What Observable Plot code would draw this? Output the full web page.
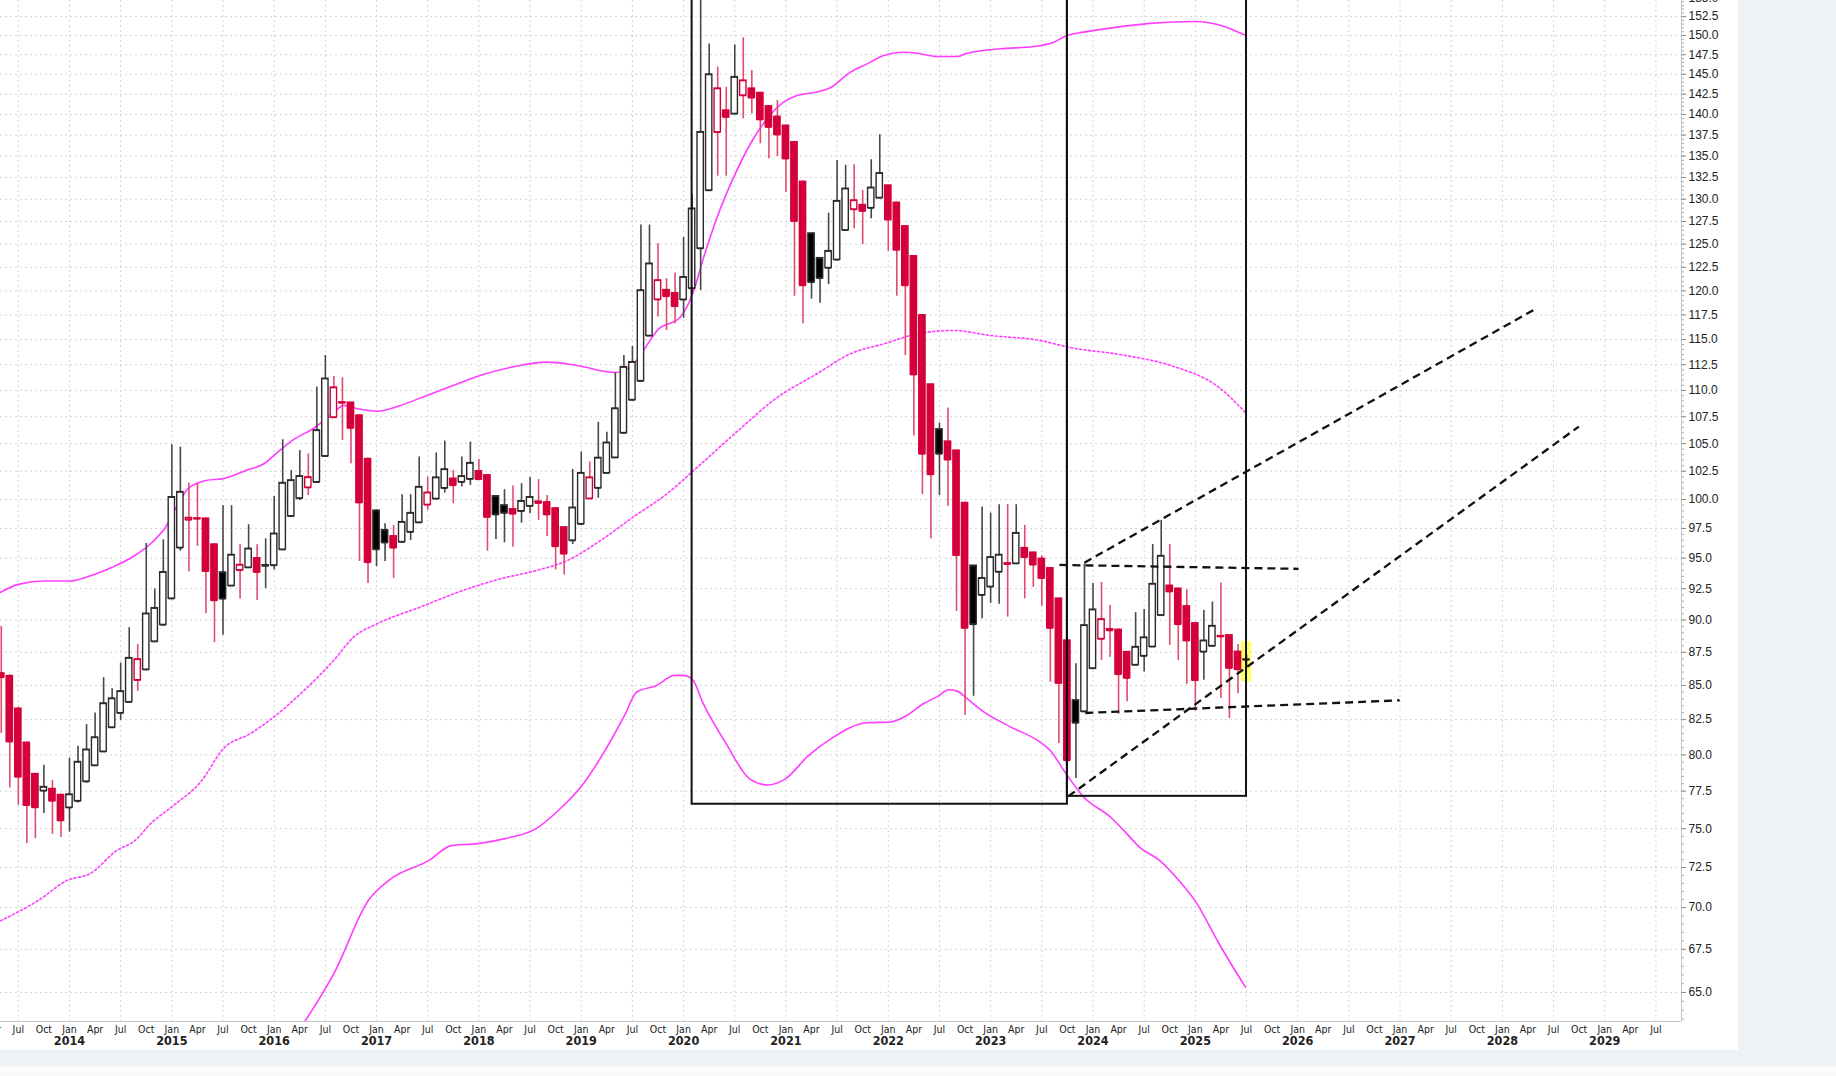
<!DOCTYPE html>
<html>
<head>
<meta charset="utf-8">
<script src="https://cdn.jsdelivr.net/npm/d3@7"></script>
<script src="https://cdn.jsdelivr.net/npm/@observablehq/plot@0.6"></script>
<style>
  html, body { margin: 0; padding: 0; width: 1836px; height: 1076px; overflow: hidden; background: #eef2f7; }
  #chart { position: absolute; left: 0; top: 0; width: 1738px; height: 1050px; background: #ffffff; }
  #foot { position: absolute; left: 0; top: 1066px; width: 1836px; height: 10px; background: #fafafa; }
  svg { display: block; }
</style>
</head>
<body>
<div id="chart"></div>
<div id="foot"></div>
<script>
// ---------- DATA (monthly Heikin-Ashi candles, first candle May 2013) ----------
const firstMonth = "2013-05";
const haOpen = [85.9,85.7,83.29,80.85,78.67,77.52,77.65,77.24,76.39,76.83,78.15,79.25,80.22,81.93,82.97,83.77,85.39,86.18,88.32,89.62,
  91.7,95.86,98.23,98.32,98.34,96.14,93.82,92.73,94.0,94.22,94.99,94.41,94.4,95.71,98.54,100.09,101.04,101.52,103.85,107.43,
  108.86,108.83,107.61,103.6,99.03,97.36,96.83,96.35,97.19,98.0,99.53,100.05,100.99,101.83,101.53,101.79,102.5,102.13,100.28,99.48,
  99.15,98.98,99.42,99.81,99.75,99.22,97.59,96.47,97.87,100.07,101.0,102.33,103.72,105.98,109.08,110.9,115.37,119.08,120.08,119.75,
  119.07,120.25,124.52,131.0,137.83,140.48,140.07,142.33,143.2,142.66,141.0,139.72,138.63,136.65,132.0,126.17,123.48,122.42,123.3,126.52,
  128.84,129.35,129.0,130.15,131.57,129.6,126.96,123.69,117.46,110.57,106.32,105.19,104.36,99.7,94.38,91.98,92.65,93.86,94.57,94.55,
  95.84,95.46,94.95,94.17,91.7,88.4,83.9,83.08,86.27,88.52,89.28,89.24,87.52,86.53,87.21,87.92,90.37,92.74,92.5,91.08,
  89.74,87.53,87.98,88.75,88.81,87.54,86.92];
const haHigh = [89.5,85.8,83.4,80.9,78.7,79.27,78.24,77.3,79.77,80.6,82.14,82.98,85.58,84.76,86.68,89.4,88.09,96.23,92.48,96.54,
  104.9,104.68,101.45,101.4,98.4,96.2,99.46,99.46,96.12,97.82,96.12,96.62,100.26,105.36,102.57,104.37,104.06,110.32,113.41,111.35,
  111.22,108.85,107.7,103.7,99.1,97.91,97.76,100.42,100.42,103.79,101.98,104.15,105.23,102.57,103.79,105.14,103.55,102.2,100.3,100.86,
  101.18,101.39,101.93,101.75,100.35,99.3,97.6,102.66,104.23,103.33,106.98,106.06,111.68,113.41,114.31,127.1,127.1,125.04,121.27,121.88,
  125.72,130.5,157.0,148.9,145.92,143.34,148.77,149.7,145.48,142.7,141.1,141.72,138.7,136.7,132.1,126.2,123.5,128.43,134.49,133.91,
  133.99,131.0,134.57,137.54,131.6,129.7,127.0,123.7,117.5,110.6,106.9,108.33,104.4,99.75,94.4,99.34,98.82,99.55,99.55,99.54,
  97.76,95.5,95.2,94.2,91.75,88.45,86.63,94.52,92.93,93.01,91.16,89.3,87.55,90.58,90.84,96.14,98.19,96.14,92.55,92.42,
  89.8,90.76,91.43,92.96,88.85,88.09,87.3];
const haLow = [81.5,77.71,76.55,74.03,74.35,76.0,74.63,74.42,74.78,76.7,78.04,79.2,80.2,81.9,82.45,83.7,84.56,86.1,88.3,89.5,
  91.6,95.58,93.85,96.0,90.5,88.24,88.81,92.7,91.68,94.2,91.55,92.52,94.03,95.7,98.5,99.91,100.35,101.5,103.8,107.4,
  105.3,103.17,94.73,92.93,94.3,94.73,93.34,96.3,96.48,97.95,99.05,100.0,100.56,99.63,101.09,101.24,101.7,95.58,96.56,96.29,
  95.92,97.95,98.77,98.19,96.81,94.03,93.62,96.14,97.8,100.0,100.11,102.3,103.7,105.9,109.0,110.8,115.3,117.28,115.9,116.6,
  117.15,119.5,120.04,130.9,132.65,132.65,140.0,139.47,140.09,136.46,134.68,134.95,130.8,119.43,116.6,119.14,118.71,120.66,123.2,126.5,
  126.68,124.97,127.8,130.1,124.21,119.43,113.41,105.71,100.43,96.62,100.35,99.4,90.68,82.81,84.2,90.1,91.33,91.26,90.23,94.5,
  91.68,92.62,91.09,85.25,80.79,79.4,78.36,83.0,86.2,86.87,87.13,82.89,83.79,86.5,86.0,87.9,90.3,88.03,86.87,85.08,
  83.13,85.38,87.9,84.03,82.57,84.39,86.5];
const haClose = [85.6,80.92,78.47,76.55,76.4,77.78,76.84,75.53,77.27,79.5,80.36,81.22,83.67,84.03,84.56,87.06,86.96,90.5,90.94,93.84,
  100.2,100.65,98.4,98.36,93.92,91.55,91.68,95.27,94.44,95.78,93.84,94.35,97.05,101.45,101.68,102.05,101.95,106.22,111.13,110.27,
  108.8,106.44,99.72,94.65,95.72,96.29,95.86,98.04,98.82,101.09,100.59,101.93,102.66,101.24,102.04,103.23,101.77,98.47,98.68,98.82,
  98.75,99.85,100.2,99.68,98.68,95.98,95.36,99.28,102.33,101.93,103.7,105.08,108.27,112.26,112.75,120.04,122.88,121.1,119.42,118.38,
  121.44,128.93,137.85,144.97,143.2,139.67,144.64,144.2,142.05,139.36,138.46,137.54,134.68,127.53,120.56,120.9,121.32,124.24,129.79,131.2,
  129.86,128.66,131.31,132.98,127.69,124.36,120.56,111.52,104.06,102.21,104.06,103.53,95.24,89.37,89.66,93.35,95.07,95.27,94.5,97.1,
  95.07,94.45,93.35,89.37,85.17,79.61,82.26,89.58,90.82,90.05,89.18,85.83,85.55,87.9,88.63,92.88,95.18,92.26,89.66,88.39,
  85.38,88.39,89.53,88.7,86.3,86.2,86.95];

// Bollinger bands (decimal year, value)
const upperYear = [2013.326,2013.501,2013.762,2014.002,2014.198,2014.416,2014.635,2014.808,2014.938,2015.071,2015.158,2015.333,2015.504,2015.724,2015.899,2016.052,2016.204,2016.379,2016.55,2016.683,2016.814,2017.006,2017.233,2017.492,2017.754,2018.017,2018.342,2018.667,2018.958,2019.333,2019.513,2019.611,2019.742,2019.969,2020.1,2020.197,2020.328,2020.49,2020.653,2020.816,2020.978,2021.109,2021.304,2021.434,2021.63,2021.793,2021.955,2022.151,2022.282,2022.475,2022.673,2022.77,2023.096,2023.421,2023.617,2023.747,2023.908,2024.233,2024.558,2024.992,2025.283,2025.492];
const upperVal = [92.21,92.85,93.12,93.12,93.53,94.25,95.2,96.33,97.6,99.77,100.95,101.68,101.84,102.57,103.17,104.37,105.46,106.38,107.62,108.57,108.25,108.02,108.57,109.52,110.49,111.46,112.3,112.75,112.42,111.74,112.59,113.96,115.92,117.28,120.04,123.6,127.98,132.53,136.46,139.48,141.51,142.34,142.77,143.3,145.27,146.33,147.4,147.82,147.69,147.27,147.27,147.69,148.27,148.56,149.13,150.0,150.44,151.1,151.6,151.85,151.2,150.0];
const middleYear = [2013.326,2013.698,2013.978,2014.198,2014.466,2014.635,2014.792,2015.019,2015.28,2015.507,2015.767,2015.942,2016.257,2016.582,2016.778,2017.006,2017.425,2017.885,2018.211,2018.559,2018.863,2019.188,2019.513,2019.839,2020.099,2020.555,2020.898,2021.304,2021.63,2021.955,2022.282,2022.639,2022.998,2023.486,2023.758,2024.308,2024.767,2025.225,2025.489];
const middleVal = [69.2,70.45,71.69,72.1,73.6,74.2,75.33,76.55,78.12,80.46,81.5,82.38,84.38,86.89,88.68,89.71,91.02,92.48,93.3,93.98,94.8,96.48,98.51,100.51,102.57,106.39,109.21,111.62,113.58,114.57,115.57,115.92,115.41,114.9,114.24,113.43,112.4,110.33,107.9];
const lowerYear = [2016.208,2016.589,2016.921,2017.12,2017.513,2017.731,2017.992,2018.255,2018.559,2018.778,2018.996,2019.214,2019.432,2019.539,2019.738,2019.911,2019.998,2020.087,2020.19,2020.417,2020.648,2020.819,2020.991,2021.22,2021.448,2021.791,2022.021,2022.183,2022.346,2022.477,2022.59,2022.673,2022.77,2022.933,2023.193,2023.454,2023.583,2023.714,2023.908,2024.17,2024.3,2024.463,2024.65,2024.85,2025.0,2025.225,2025.489];
const lowerVal = [62.6,66.15,70.45,71.69,72.95,73.9,74.03,74.35,75.0,76.22,77.78,80.08,82.93,84.5,85.0,85.75,85.75,85.44,83.7,80.77,78.32,77.92,78.32,79.94,81.18,82.27,82.33,82.81,83.67,84.16,84.68,84.58,84.02,83.06,81.98,81.03,80.31,78.93,77.11,75.77,74.89,73.75,72.95,71.6,70.4,67.9,65.3];

// Annotations drawn on the chart (months as "YYYY-MM", prices)
const boxFrom = ["2020-02", "2023-10"];
const boxTo = ["2023-10", "2025-07"];
const boxLow = [76.62, 77.15];
const trendFrom = [2023.916, 2023.758, 2023.672, 2023.925];
const trendFromVal = [94.63, 77.15, 94.44, 82.98];
const trendTo = [2028.332, 2028.747, 2026.008, 2026.997];
const trendToVal = [118.17, 106.58, 94.12, 83.9];
const highlightMonth = "2025-07";
const highlightRange = [85.25, 88.3];

// Axis ticks
const yTicks = d3.range(65, 155.01, 2.5);
const yMinorTicks = d3.range(63.5, 155.01, 0.5);
const monthNames = ["Jan", "Apr", "Jul", "Oct"];
const firstTickYear = 2013, lastTick = "2029-07";

// ---------- helpers ----------
const mIndex = s => { const [y, m] = s.split("-").map(Number); return (y - 2014) * 12 + (m - 1); };
const yIndex = yr => (yr - 2014) * 12;
const t0 = mIndex(firstMonth);

const candles = haOpen.map((o, i) => {
  const c = haClose[i];
  const pc = i ? haClose[i - 1] : o;
  const up = c >= pc;
  return { t: t0 + i, o, h: haHigh[i], l: haLow[i], c, lo: Math.min(o, c), hi: Math.max(o, c),
           col: up ? "#2b2b2b" : "#d4003a", wick: up ? "#474747" : "#e24b6c",
           fill: c > o ? "#ffffff" : (up ? "#000000" : "#d4003a") };
});
const band = (xs, vs) => xs.map((x, i) => ({ t: yIndex(x), v: vs[i] }));
const upper = band(upperYear, upperVal), middle = band(middleYear, middleVal), lower = band(lowerYear, lowerVal);
const boxes = boxFrom.map((f, i) => ({ x1: mIndex(f), x2: mIndex(boxTo[i]), y1: boxLow[i], y2: 175 }));
const trends = trendFrom.map((f, i) => ({ x1: yIndex(f), y1: trendFromVal[i], x2: yIndex(trendTo[i]), y2: trendToVal[i] }));
const hl = [{ x1: mIndex(highlightMonth) - 0.6, x2: mIndex(highlightMonth) + 0.6, y1: highlightRange[0], y2: highlightRange[1] }];

const lastT = mIndex(lastTick);
const monthTicks = [];
for (let y = firstTickYear; ; y++) {
  let done = false;
  for (let q = 0; q < 4; q++) {
    const t = (y - 2014) * 12 + q * 3;
    if (t > lastT) { done = true; break; }
    monthTicks.push({ t, label: monthNames[q], q });
  }
  if (done) break;
}
const yearTicks = monthTicks.filter(d => d.q === 0 && d.t >= 0).map(d => ({ t: d.t, label: String(2014 + d.t / 12) }));
const vGrid = monthTicks.filter(d => d.q % 2 === 0).map(d => d.t);

const xDomain = [-8.09, 189.0];
const yDomain = [63.37, 154.66];
const HW = 0.37;
const narrow = "'Liberation Sans Narrow', 'DejaVu Sans Condensed', 'Roboto Condensed', sans-serif";

const chart = Plot.plot({
  width: 1738, height: 1050,
  marginLeft: 0, marginRight: 57, marginTop: 0, marginBottom: 29,
  x: { type: "linear", domain: xDomain, axis: null },
  y: { type: "log", domain: yDomain, axis: null },
  style: { background: "transparent", fontFamily: "'Liberation Sans', Arial, sans-serif" },
  marks: [
    Plot.ruleY(yTicks, { stroke: "#d4d4d4", strokeDasharray: "2,3", strokeWidth: 1 }),
    Plot.ruleX(vGrid, { stroke: "#d4d4d4", strokeDasharray: "2,3", strokeWidth: 1 }),
    Plot.line(upper, { x: "t", y: "v", stroke: "#ff3dff", strokeWidth: 1.6, curve: "monotone-x", clip: true }),
    Plot.line(middle, { x: "t", y: "v", stroke: "#ff3dff", strokeWidth: 1.6, strokeDasharray: "2,2.5", curve: "monotone-x", clip: true }),
    Plot.line(lower, { x: "t", y: "v", stroke: "#ff3dff", strokeWidth: 1.6, curve: "monotone-x", clip: true }),
    Plot.rect(hl, { x1: "x1", x2: "x2", y1: "y1", y2: "y2", fill: "#ffff33", fillOpacity: 0.75 }),
    Plot.ruleX(candles, { x: "t", y1: "l", y2: "h", stroke: "wick", strokeWidth: 1.6, clip: true }),
    Plot.rect(candles, { x1: d => d.t - HW, x2: d => d.t + HW, y1: "lo", y2: "hi", fill: "fill", stroke: "col", strokeWidth: 1.4, clip: true }),
    Plot.ruleY(candles, { y: "c", x1: d => d.t - HW, x2: d => d.t + HW, stroke: "col", strokeWidth: 1.4, clip: true }),
    Plot.ruleY(candles, { y: "o", x1: d => d.t - HW, x2: d => d.t + HW, stroke: "col", strokeWidth: 1.4, clip: true }),
    Plot.rect(boxes, { x1: "x1", x2: "x2", y1: "y1", y2: "y2", fill: "none", stroke: "#111", strokeWidth: 2, clip: true }),
    Plot.link(trends, { x1: "x1", y1: "y1", x2: "x2", y2: "y2", stroke: "#111", strokeWidth: 2.3, strokeDasharray: "8,5", clip: true }),
    Plot.ruleX([xDomain[1]], { stroke: "#c4c4c4", strokeWidth: 1 }),
    Plot.ruleY([yDomain[0]], { stroke: "#c4c4c4", strokeWidth: 1 }),
    Plot.axisY({ anchor: "right", ticks: yMinorTicks, tickSize: 2, tickFormat: () => "", stroke: "#aaa" }),
    Plot.axisY({ anchor: "right", ticks: yTicks, tickSize: 4, tickPadding: 3, tickFormat: d => d.toFixed(1), fontSize: 12, stroke: "#888", fill: "#222" }),
    Plot.text(monthTicks, { x: "t", text: "label", frameAnchor: "bottom", dy: 8, fontSize: 10.5, fontFamily: narrow, fill: "#222", lineAnchor: "middle" }),
    Plot.text(yearTicks, { x: "t", text: "label", frameAnchor: "bottom", dy: 19.5, fontSize: 12.5, fontWeight: "bold", fontFamily: narrow, fill: "#222", lineAnchor: "middle" })
  ]
});
document.getElementById("chart").appendChild(chart);
</script>
</body>
</html>
